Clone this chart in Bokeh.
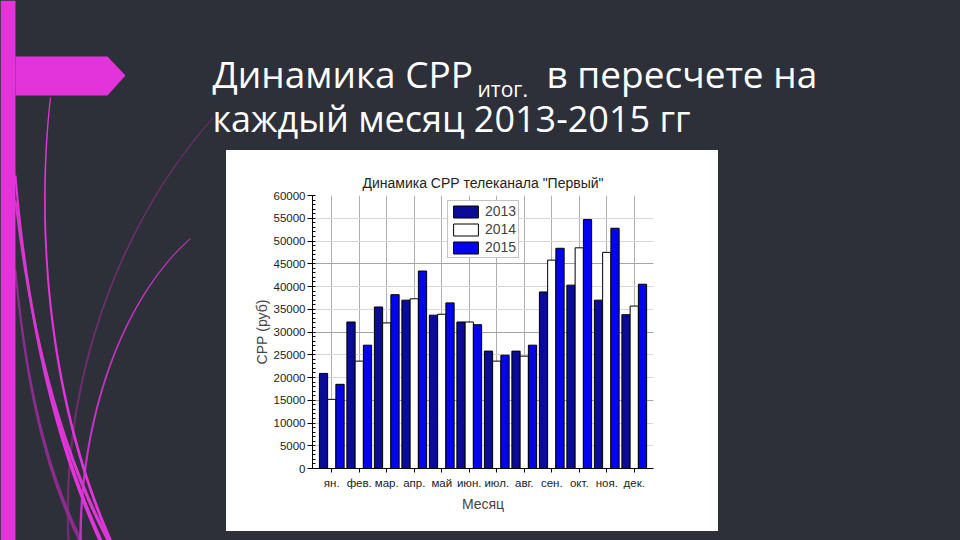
import numpy as np
from bokeh.plotting import figure
from bokeh.layouts import column
from bokeh.models import (Range1d, FactorRange, Grid, Legend, LegendItem,
                          SingleIntervalTicker, ColumnDataSource)
from bokeh.transform import dodge
from bokeh.core.properties import value
from bokeh.embed import file_html
from bokeh.resources import INLINE

# ---------------- data ----------------
months = ["ян.", "фев.", "мар.", "апр.", "май", "июн.",
          "июл.", "авг.", "сен.", "окт.", "ноя.", "дек."]
years = ["2013", "2014", "2015"]
v2013 = [20900, 32200, 35500, 37000, 33700, 32200, 25800, 25800, 38800, 40300, 37000, 33800]
v2014 = [15200, 23600, 32000, 37300, 33900, 32200, 23600, 24700, 45800, 48500, 47500, 35700]
v2015 = [18500, 27100, 38200, 43400, 36400, 31600, 24900, 27100, 48400, 54700, 52800, 40500]

slide_title_main = "Динамика СРР"
slide_title_sub = "итог."
slide_title_rest = "в пересчете на"
slide_title_line2 = "каждый месяц 2013-2015 гг"
chart_title = 'Динамика СРР телеканала "Первый"'
y_label = "СРР (руб)"
x_label = "Месяц"

# ---------------- styles ----------------
W, H = 960, 540
IMG_L, IMG_T, IMG_R, IMG_B = 226, 150, 718, 531     # chart picture on the slide
FL, FR, FT, FB = 312, 653, 195, 468                 # plot area on the slide
BG = "#2d3039"
MAG = "#e234da"
C13, C14, C15 = "#0b0b9a", "#ffffff", "#0505ec"
CF = "Liberation Sans"
TF = "Open Sans"

# ---------------- slide background figure ----------------
bg = figure(width=W, height=H, x_range=Range1d(0, W), y_range=Range1d(H, 0),
            output_backend="svg", toolbar_location=None,
            x_axis_location=None, y_axis_location=None,
            min_border=0, min_border_left=0, min_border_right=0,
            min_border_top=0, min_border_bottom=0)
bg.frame_align = False
bg.background_fill_color = BG
bg.border_fill_color = BG
bg.outline_line_color = None
bg.xgrid.visible = False
bg.ygrid.visible = False


def stroke(pts, w0, w1, n=60):
    P = np.array(pts, float)
    t = np.linspace(0, 1, n)[:, None]
    B = ((1 - t) ** 3) * P[0] + 3 * ((1 - t) ** 2) * t * P[1] + \
        3 * (1 - t) * (t ** 2) * P[2] + (t ** 3) * P[3]
    d = np.gradient(B, axis=0)
    nrm = np.stack([-d[:, 1], d[:, 0]], 1)
    nrm /= np.linalg.norm(nrm, axis=1)[:, None]
    w = np.linspace(w0, w1, n)[:, None] / 2
    outline = np.vstack([B + nrm * w, (B - nrm * w)[::-1]])
    return outline[:, 0].tolist(), outline[:, 1].tolist()


curves = [
    ([(213, 117), (120, 220), (60, 380), (68, 540)], 1.0, 2.5, "#6e2e6e"),
    ([(15, 270), (25, 380), (45, 470), (80, 540)], 2.0, 4.0, "#8c2c8c"),
    ([(190, 238), (120, 300), (80, 420), (80, 540)], 1.0, 2.5, "#c234c0"),
    ([(50, 97), (38, 200), (40, 380), (110, 540)], 1.2, 3.0, MAG),
    ([(15, 175), (25, 300), (50, 430), (100, 540)], 2.0, 4.0, MAG),
    ([(15, 200), (30, 330), (60, 450), (108, 540)], 2.0, 3.5, "#d838d0"),
]
cx, cy, cc = [], [], []
for pts, w0, w1, col in curves:
    xs, ys = stroke(pts, w0, w1)
    cx.append(xs)
    cy.append(ys)
    cc.append(col)
bg.patches(xs=cx, ys=cy, fill_color=cc, line_color=None)

# left bar and arrow band
bg.patches(xs=[[0, 15, 15, 0], [15, 107, 125, 107, 15]],
           ys=[[0, 0, H, H], [56, 56, 75, 95, 95]],
           fill_color=MAG, line_color=None)

# slide title
bg.text(x=[212, 546], y=[73, 73],
        text=[slide_title_main, slide_title_rest],
        text_font=value(TF), text_font_size="37px", text_color="white",
        text_baseline="alphabetic", text_align="left")
bg.text(x=[212], y=[118], text=[slide_title_line2],
        text_font=value(TF), text_font_size="36px", text_color="white",
        text_baseline="alphabetic", text_align="left")
bg.text(x=[477], y=[88], text=[slide_title_sub],
        text_font=value(TF), text_font_size="21px", text_color="white",
        text_baseline="alphabetic", text_align="left")

# ---------------- chart figure ----------------
p = figure(width=IMG_R - IMG_L, height=IMG_B - IMG_T,
           x_range=FactorRange(factors=months, range_padding=0.2,
                               range_padding_units="absolute"),
           y_range=Range1d(0, 60000),
           output_backend="svg", toolbar_location=None,
           min_border_left=FL - IMG_L, min_border_right=IMG_R - FR,
           min_border_top=FT - IMG_T, min_border_bottom=IMG_B - FB)
p.frame_align = False
p.styles = {"position": "absolute", "left": f"{IMG_L}px", "top": f"{IMG_T}px",
            "background-color": "white"}
p.border_fill_color = "white"
p.background_fill_color = "white"
p.outline_line_color = None

p.title.text = chart_title
p.title.align = "center"
p.title.text_font = CF
p.title.text_font_size = "14px"
p.title.text_font_style = "normal"
p.title.text_color = "#222222"
p.title.offset = 4

src = ColumnDataSource(dict(month=months, y13=v2013, y14=v2014, y15=v2015))
r13 = p.vbar(x=dodge("month", -0.3, range=p.x_range), top="y13", width=0.3,
             source=src, fill_color=C13, line_color="black", line_width=1)
r14 = p.vbar(x=dodge("month", 0.0, range=p.x_range), top="y14", width=0.3,
             source=src, fill_color=C14, line_color="black", line_width=1)
r15 = p.vbar(x=dodge("month", 0.3, range=p.x_range), top="y15", width=0.3,
             source=src, fill_color=C15, line_color="black", line_width=1)

# axes
p.yaxis.ticker = SingleIntervalTicker(interval=5000, num_minor_ticks=5)
p.yaxis.major_tick_out = 5
p.yaxis.major_tick_in = 0
p.yaxis.minor_tick_in = 3
p.yaxis.minor_tick_out = 0
p.yaxis.major_label_standoff = 2
p.yaxis.major_label_text_font = CF
p.yaxis.major_label_text_font_size = "11.5px"
p.yaxis.major_label_text_color = "#222222"
p.yaxis.axis_label = y_label
p.yaxis.axis_label_text_font = CF
p.yaxis.axis_label_text_font_size = "14px"
p.yaxis.axis_label_text_font_style = "normal"
p.yaxis.axis_label_standoff = 1

p.xaxis.major_tick_out = 4
p.xaxis.major_tick_in = 0
p.xaxis.major_label_standoff = 4
p.xaxis.major_label_text_font = CF
p.xaxis.major_label_text_font_size = "11.5px"
p.xaxis.major_label_text_color = "#222222"
p.xaxis.axis_label = x_label
p.xaxis.axis_label_text_font = CF
p.xaxis.axis_label_text_font_size = "14px"
p.xaxis.axis_label_text_font_style = "normal"
p.xaxis.axis_label_standoff = 4
for ax in (p.xaxis, p.yaxis):
    ax.axis_line_color = "black"
    ax.major_tick_line_color = "black"
    ax.minor_tick_line_color = "black"

# grids
p.xgrid.grid_line_color = "#b0b0b0"
p.ygrid.ticker = SingleIntervalTicker(interval=5000)
p.ygrid.grid_line_color = "#d6d6d6"
p.add_layout(Grid(dimension=1, ticker=SingleIntervalTicker(interval=15000),
                  grid_line_color="#a4a4a4"))

# legend
legend = Legend(items=[LegendItem(label=years[0], renderers=[r13]),
                       LegendItem(label=years[1], renderers=[r14]),
                       LegendItem(label=years[2], renderers=[r15])],
                location=(135, 210))
legend.border_line_color = "#888888"
legend.background_fill_color = "white"
legend.background_fill_alpha = 1
legend.glyph_width = 31
legend.glyph_height = 15
legend.label_height = 15
legend.label_text_font = CF
legend.label_text_font_size = "14px"
legend.label_standoff = 4
legend.padding = 2
legend.spacing = 2
legend.margin = 0
p.add_layout(legend)

page = column(bg, p, width=W, height=H,
              styles={"position": "fixed", "left": "0px", "top": "0px",
                      "background-color": BG})

open("out.html", "w").write(file_html(page, INLINE))
